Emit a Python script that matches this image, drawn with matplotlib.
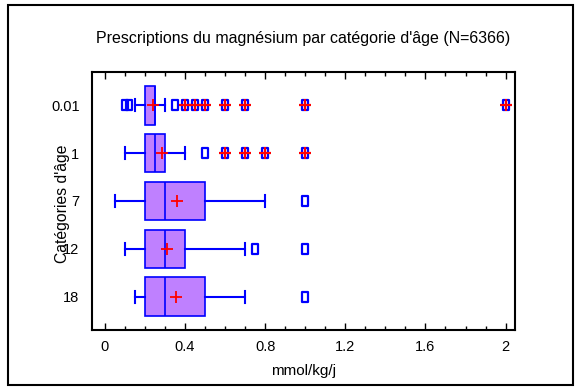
import matplotlib
matplotlib.use('Agg')
import matplotlib.pyplot as plt
import matplotlib.ticker as ticker
from matplotlib.patches import Rectangle
from matplotlib.path import Path

plt.rcParams['font.family'] = ['Liberation Sans', 'DejaVu Sans']

# ---------------------------------------------------------------------------
# Donnees (mmol/kg/j)
categories = ['0.01', '1', '7', '12', '18']
q1 = [0.2, 0.2, 0.2, 0.2, 0.2]
mediane = [0.25, 0.25, 0.3, 0.3, 0.3]
q3 = [0.25, 0.3, 0.5, 0.4, 0.5]
whis_bas = [0.15, 0.1, 0.05, 0.1, 0.15]
whis_haut = [0.3, 0.4, 0.8, 0.7, 0.7]
moyenne = [0.24, 0.285, 0.36, 0.31, 0.355]
# valeurs "outside" (carre simple) et "far out" (carre + croix rouge)
outside = [[0.1, 0.12, 0.35], [0.5], [1.0], [0.75, 1.0], [1.0]]
far_out = [[0.4, 0.45, 0.5, 0.6, 0.7, 1.0, 2.0], [0.6, 0.7, 0.8, 1.0], [], [], []]

# ---------------------------------------------------------------------------
bleu = '#0000FF'
violet = '#BF80FF'

stats = []
for i in range(len(categories)):
    stats.append({'label': categories[i], 'q1': q1[i], 'med': mediane[i], 'q3': q3[i],
                  'whislo': whis_bas[i], 'whishi': whis_haut[i], 'mean': moyenne[i],
                  'fliers': outside[i] + far_out[i]})

rect = Path([(-0.35, -0.5), (0.35, -0.5), (0.35, 0.5), (-0.35, 0.5), (-0.35, -0.5)],
            [Path.MOVETO, Path.LINETO, Path.LINETO, Path.LINETO, Path.CLOSEPOLY])

fig = plt.figure(figsize=[5.81, 3.90], dpi=100)
ax = fig.add_axes([92/581., 1-330/390., 423/581., 258/390.])
pos = list(range(len(categories)))
ax.bxp(stats, positions=pos, widths=0.8, orientation='horizontal', patch_artist=True,
       showmeans=True, capwidths=0.25,
       boxprops=dict(facecolor=violet, edgecolor=bleu, linewidth=1.2),
       medianprops=dict(color=bleu, linewidth=1.2),
       whiskerprops=dict(color=bleu, linewidth=1.5),
       capprops=dict(color=bleu, linewidth=1.5),
       meanprops=dict(marker='+', markeredgecolor='red', markersize=8, markeredgewidth=1.3),
       flierprops=dict(marker=rect, markerfacecolor='none', markeredgecolor=bleu,
                       markersize=7, markeredgewidth=1.6))

for i in range(len(categories)):
    if far_out[i]:
        ax.plot(far_out[i], [pos[i]]*len(far_out[i]), linestyle='none', marker='+',
                markeredgecolor='red', markersize=8, markeredgewidth=1.6, zorder=5)

ax.set_xlim(-0.064, 2.047)
ax.set_ylim(4.7, -0.7)
ax.set_yticks(pos)
ax.set_yticklabels(categories)
ax.xaxis.set_major_locator(ticker.MultipleLocator(0.4))
ax.xaxis.set_minor_locator(ticker.MultipleLocator(0.1))
ax.xaxis.set_major_formatter(ticker.FuncFormatter(lambda v, p: '%g' % round(v, 2)))
ax.tick_params(axis='x', which='major', direction='in', length=5, width=1, top=True,
               labelsize=10.5, pad=7, colors='black')
ax.tick_params(axis='x', which='minor', direction='in', length=3, width=1, top=True)
ax.tick_params(axis='y', length=0, labelsize=10.5, pad=9)
for s in ax.spines.values():
    s.set_linewidth(1.5)

ax.set_xlabel('mmol/kg/j', fontsize=11)
ax.xaxis.set_label_coords(0.5, -0.132)
ax.set_ylabel(u"Catégories d'âge", fontsize=11.3)
ax.yaxis.set_label_coords(-0.052, 0.49)
fig.text(303/581., 1-38/390., u"Prescriptions du magnésium par catégorie d'âge (N=6366)",
         ha='center', va='center', fontsize=11.5)

fig.patches.append(Rectangle((8/581., 1-385/390.), 565/581., 380/390., fill=False,
                             edgecolor='black', linewidth=1.5, transform=fig.transFigure))

plt.savefig('out.png', dpi=100)
plt.close('all')
